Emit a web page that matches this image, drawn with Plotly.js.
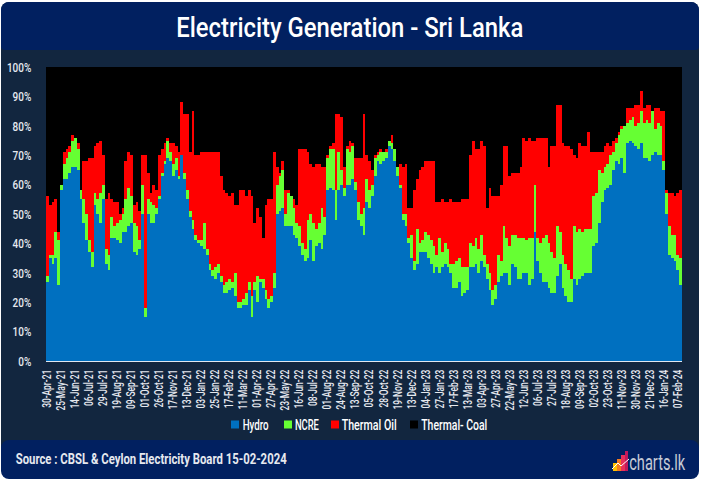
<!DOCTYPE html>
<html>
<head>
<meta charset="utf-8">
<script src="https://cdn.plot.ly/plotly-3.0.1.min.js"></script>
<style>
html,body{margin:0;padding:0;background:#fff;width:702px;height:481px;overflow:hidden}
#panel{position:absolute;left:1px;top:2px;width:698px;height:470px;background:#12263f;border-radius:8px}
#head{position:absolute;left:1px;top:2px;width:698px;height:48px;background:#012060;border-radius:8px 8px 4px 4px}
#foot{position:absolute;left:1px;top:440px;width:698px;height:39px;background:#012060;border-radius:8px}
#chart{position:absolute;left:0;top:0;width:702px;height:481px}
#logo{position:absolute;left:612px;top:450px}
</style>
</head>
<body>
<div id="panel"></div><div id="head"></div><div id="foot"></div>
<div id="chart"></div>
<svg id="logo" width="18" height="22" viewBox="0 0 18 22">
<rect x="1" y="13" width="4" height="8" fill="#ffc000"/>
<rect x="5" y="9" width="4" height="12" fill="#f47b20"/>
<rect x="9" y="5" width="4" height="16" fill="#e8305a"/>
<rect x="13" y="1" width="3" height="20" fill="#c2185b"/>
<polyline points="0,19 6,13 9,16 17,9" fill="none" stroke="#fff" stroke-width="1"/>
</svg>
<script>
const tickLabels = ["30-Apr-21","25-May-21","14-Jun-21","06-Jul-21","29-Jul-21","19-Aug-21","09-Sep-21","01-Oct-21","26-Oct-21","17-Nov-21","13-Dec-21","03-Jan-22","25-Jan-22","17-Feb-22","11-Mar-22","01-Apr-22","27-Apr-22","23-May-22","16-Jun-22","08-Jul-22","01-Aug-22","24-Aug-22","13-Sep-22","05-Oct-22","28-Oct-22","19-Nov-22","13-Dec-22","04-Jan-23","27-Jan-23","17-Feb-23","13-Mar-23","03-Apr-23","27-Apr-23","22-May-23","12-Jun-23","06-Jul-23","27-Jul-23","18-Aug-23","09-Sep-23","02-Oct-23","23-Oct-23","11-Nov-23","30-Nov-23","21-Dec-23","16-Jan-24","07-Feb-24"];
const hydro = [27,35,33,35,26,58,62,62,64,66,66,65,55,47,41,37,32,53,50,47,55,33,31,42,42,41,40,44,44,46,47,37,36,38,50,15,50,47,47,50,55,63,67,69,68,63,65,62,70,62,55,49,45,41,40,39,38,36,31,29,28,30,27,23,23,24,25,22,18,18,19,19,24,15,24,20,27,25,21,18,20,25,50,51,52,46,46,46,43,42,39,36,34,35,41,34,39,40,38,43,58,59,58,48,58,60,56,60,60,62,58,48,46,43,54,52,56,63,68,67,68,69,73,72,68,63,59,48,46,40,35,31,33,37,37,37,35,33,30,32,30,32,33,32,30,25,25,27,22,23,24,32,32,33,30,34,32,28,24,19,21,27,29,30,30,26,33,32,28,28,30,30,26,28,44,34,30,27,27,25,23,23,29,33,25,22,20,20,28,26,28,29,30,30,30,39,40,47,54,58,59,60,65,68,67,69,64,74,75,74,73,72,74,69,69,68,70,71,70,70,65,50,36,35,34,31,26];
const ncre = [2,1,3,9,15,2,5,7,7,9,10,7,3,8,9,4,5,4,5,10,5,5,5,7,4,6,8,6,11,13,9,10,10,3,10,3,5,7,6,2,1,1,1,6,3,4,4,1,0,2,3,2,3,2,1,2,9,2,2,2,4,3,2,3,4,4,2,8,2,2,2,4,3,7,3,9,1,3,3,3,2,5,10,12,13,4,11,10,9,5,7,4,4,13,9,13,6,7,14,6,11,13,14,10,13,5,3,12,11,11,3,6,4,9,8,6,4,6,2,4,3,2,2,2,4,3,1,2,4,2,8,3,12,3,4,7,8,8,9,4,12,5,7,6,3,8,9,8,10,9,8,8,7,9,8,9,4,5,6,5,5,9,5,16,12,13,10,11,14,14,12,11,16,14,16,8,10,15,16,15,14,12,17,11,11,11,11,8,18,18,17,15,15,15,15,17,17,18,10,8,8,10,6,6,10,10,16,7,7,9,7,9,11,12,13,13,15,8,11,10,3,7,10,8,9,5,9];
const thermalOil = [27,17,18,11,3,0,4,3,2,2,0,2,0,13,18,28,32,16,19,18,10,17,21,6,8,7,2,2,13,12,14,6,8,10,10,52,9,3,7,6,14,8,6,1,3,7,4,8,18,20,26,20,37,27,29,30,24,33,38,40,39,38,34,32,30,28,30,23,33,38,37,33,31,34,20,23,21,14,29,34,33,41,6,1,3,8,1,0,3,6,26,32,34,23,17,19,22,20,14,17,1,1,2,26,13,18,7,1,4,1,8,15,19,32,8,10,5,1,1,1,0,1,0,3,0,0,7,16,17,10,9,24,17,25,25,24,25,27,29,18,12,18,14,16,22,21,20,19,23,23,23,30,36,30,34,32,37,19,29,32,30,20,26,27,31,24,21,21,22,24,34,34,34,33,15,34,36,34,33,26,36,38,41,43,38,40,42,44,24,25,29,29,28,33,26,15,14,6,7,7,7,3,4,2,1,1,0,5,4,3,7,6,7,5,5,6,0,7,5,5,17,1,11,14,13,21,23];
const thermalCoal = [44,47,46,45,56,40,29,28,27,23,24,26,42,32,32,31,31,27,26,25,30,45,43,45,46,46,50,48,32,29,30,47,46,49,30,30,36,43,40,42,30,28,26,24,26,26,27,29,12,16,16,29,15,30,30,29,29,29,29,29,29,29,37,42,43,44,43,47,47,42,42,44,42,44,53,48,51,58,47,45,45,29,34,36,32,42,42,44,45,47,28,28,28,29,33,34,33,33,34,34,30,27,26,16,16,17,34,27,25,26,31,31,31,16,30,32,35,30,29,28,29,28,25,23,28,34,33,34,33,48,48,42,38,35,34,32,32,32,32,46,46,45,46,46,45,46,46,46,45,45,45,30,25,28,28,25,27,48,41,44,44,44,40,27,27,37,36,36,36,34,24,25,24,25,25,24,24,24,24,34,27,27,13,13,26,27,27,28,30,31,26,27,27,22,29,29,29,29,29,27,26,27,25,24,22,20,20,14,14,14,13,13,8,14,13,13,15,14,14,15,15,42,43,43,44,43,42];

const xs = hydro.map((_, i) => i);
const seriesDefs = [
  {name:"Hydro", y:hydro, color:"#0070C0", swatchPx:231, textPx:255, textW:26},
  {name:"NCRE", y:ncre, color:"#66FF33", swatchPx:284, textPx:306.5, textW:24},
  {name:"Thermal Oil", y:thermalOil, color:"#FF0000", swatchPx:331, textPx:368.5, textW:55},
  {name:"Thermal- Coal", y:thermalCoal, color:"#000000", swatchPx:410, textPx:454, textW:66}
];
const FONT = 'Roboto,"DejaVu Sans",sans-serif';
const PL = 46, PW = 636, PT = 67, PH = 294;
const px = X => (X - PL) / PW;
const py = Y => (PT + PH - Y) / PH;

const traces = seriesDefs.map(s => ({
  type:"bar", x:xs, y:s.y, name:s.name,
  marker:{color:s.color, line:{width:0}}, hoverinfo:"skip"
}));
const texts = [
  {text:"Electricity Generation - Sri Lanka", cx:349.5, cy:28, w:347, size:28, color:"#ffffff", weight:500},
  {text:"Source : CBSL &amp; Ceylon Electricity Board 15-02-2024", cx:151.5, cy:459, w:271, size:15, color:"#e6e9ef", weight:700},
  {text:"charts.lk", cx:657, cy:462, w:56, size:22, color:"#c5cad6", weight:400}
].concat(seriesDefs.map(s => ({text:s.name, cx:s.textPx, cy:424.5, w:s.textW, size:14, color:"#ffffff", weight:500})));

const layout = {
  width:702, height:481, autosize:false,
  margin:{l:PL, r:702-PL-PW, t:PT, b:481-PT-PH, pad:0},
  paper_bgcolor:"rgba(0,0,0,0)", plot_bgcolor:"#000",
  barmode:"stack", bargap:0,
  font:{family:FONT, color:"#e6e9ef"},
  showlegend:false,
  xaxis:{type:"linear", range:[-0.5, xs.length-0.5], tickmode:"array",
         tickvals:tickLabels.map((_, i) => i*5), ticktext:tickLabels,
         tickangle:-90, ticks:"outside", ticklen:3, tickcolor:"rgba(0,0,0,0)", showgrid:false, zeroline:false,
         tickfont:{size:12, color:"#e6e9ef", family:FONT, weight:500},
         showline:true, linecolor:"#dfe6f0", linewidth:1},
  yaxis:{range:[0,100], dtick:10, ticksuffix:"%", ticks:"outside", ticklen:11, tickcolor:"rgba(0,0,0,0)",
         showgrid:false, zeroline:false,
         tickfont:{size:13.5, color:"#e6e9ef", family:FONT, weight:500}},
  shapes:seriesDefs.map(s => ({type:"rect", xref:"paper", yref:"paper", layer:"above",
     x0:px(s.swatchPx), x1:px(s.swatchPx+8), y0:py(428.5), y1:py(420.5),
     fillcolor:s.color, line:{width:0}})),
  annotations:texts.map(t => ({xref:"paper", yref:"paper", x:px(t.cx), y:py(t.cy),
     xanchor:"center", yanchor:"middle", showarrow:false, text:t.text,
     font:{size:t.size, color:t.color, family:FONT, weight:t.weight}}))
};
function squeeze(el, target){
  el.setAttribute("lengthAdjust","spacingAndGlyphs");
  el.setAttribute("textLength", String(target));
}
Plotly.newPlot("chart", traces, layout, {displayModeBar:false, staticPlot:true}).then(gd => {
  gd.querySelectorAll(".xtick text").forEach(t => squeeze(t, t.getComputedTextLength()*0.7));
  gd.querySelectorAll(".ytick text").forEach(t => squeeze(t, t.getComputedTextLength()*0.74));
  gd.querySelectorAll(".annotation-text").forEach((t,i) => squeeze(t, texts[i].w));
});
</script>
</body>
</html>
